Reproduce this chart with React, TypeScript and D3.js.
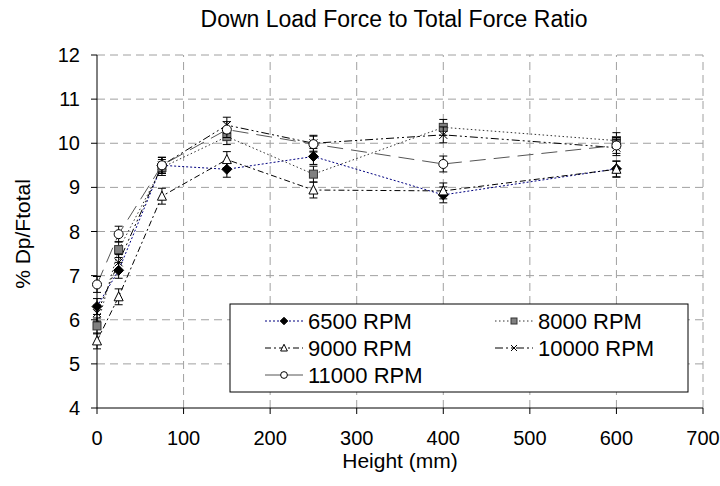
import React from "react";
import * as d3 from "d3";

const heights = [0, 25, 75, 150, 250, 400, 600];
const rpm6500 = [6.3, 7.12, 9.5, 9.41, 9.7, 8.83, 9.42];
const rpm8000 = [5.86, 7.59, 9.45, 10.15, 9.3, 10.36, 10.06];
const rpm9000 = [5.52, 6.52, 8.8, 9.63, 8.94, 8.92, 9.41];
const rpm10000 = [6.15, 7.3, 9.5, 10.41, 10.0, 10.19, 9.9];
const rpm11000 = [6.8, 7.94, 9.5, 10.31, 9.98, 9.53, 9.95];
const errHalf = 0.18;
const xTicks = [0, 100, 200, 300, 400, 500, 600, 700];
const yTicks = [4, 5, 6, 7, 8, 9, 10, 11, 12];
const seriesNames = ["6500 RPM", "8000 RPM", "9000 RPM", "10000 RPM", "11000 RPM"];

const W = 720, H = 486;
const FONT = "'Liberation Sans', Arial, sans-serif";

type Style = { stroke: string; dash: string; marker: string };
const styles: Style[] = [
  { stroke: "#000080", dash: "2,2", marker: "diamond" },
  { stroke: "#333", dash: "1.5,2.5", marker: "square" },
  { stroke: "#000", dash: "6,3,2,3", marker: "triangle" },
  { stroke: "#000", dash: "8,3,2,3,2,3", marker: "x" },
  { stroke: "#555", dash: "16,8", marker: "circle" },
];

function Marker({ type, x, y, s = 1 }: { type: string; x: number; y: number; s?: number }) {
  if (type === "diamond") {
    const r = 5 * s;
    return <path d={`M${x},${y - r}L${x + r},${y}L${x},${y + r}L${x - r},${y}Z`} fill="#000" stroke="#000" />;
  }
  if (type === "square") {
    const r = 4 * s;
    return <rect x={x - r} y={y - r} width={2 * r} height={2 * r} fill="#808080" stroke="#333" strokeWidth={1} />;
  }
  if (type === "triangle") {
    const r = 5 * s;
    return <path d={`M${x},${y - r}L${x + r * 0.9},${y + r * 0.8}L${x - r * 0.9},${y + r * 0.8}Z`} fill="#fff" stroke="#000" />;
  }
  if (type === "x") {
    const r = 4 * s;
    return <path d={`M${x - r},${y - r}L${x + r},${y + r}M${x - r},${y + r}L${x + r},${y - r}`} stroke="#000" fill="none" />;
  }
  const r = 4.5 * s;
  return <circle cx={x} cy={y} r={r} fill="#fff" stroke="#000" />;
}

export default function App() {
  const x = d3.scaleLinear().domain([0, 700]).range([97, 703]);
  const y = d3.scaleLinear().domain([4, 12]).range([408, 55]);
  const all = [rpm6500, rpm8000, rpm9000, rpm10000, rpm11000];
  const line = d3.line<number>().x((_, i) => x(heights[i])).y((d) => y(d));

  const legendItems = [
    { i: 0, lx: 265, ly: 321 },
    { i: 1, lx: 495, ly: 321 },
    { i: 2, lx: 265, ly: 348 },
    { i: 3, lx: 495, ly: 348 },
    { i: 4, lx: 265, ly: 375 },
  ];

  return (
    <svg width={W} height={H} style={{ position: "absolute", left: 0, top: 0, background: "#fff" }} fontFamily={FONT}>
      <rect x={0} y={0} width={W} height={H} fill="#fff" />
      {/* gridlines */}
      {yTicks.filter((t) => t !== 4).map((t) => (
        <line key={"gy" + t} x1={x(0)} x2={x(700)} y1={y(t)} y2={y(t)} stroke="#a0a0a0" strokeDasharray="8,5" />
      ))}
      {xTicks.filter((t) => t !== 0).map((t) => (
        <line key={"gx" + t} x1={x(t)} x2={x(t)} y1={y(4)} y2={y(12)} stroke="#a0a0a0" strokeDasharray="8,5" />
      ))}
      {/* axes */}
      <line x1={x(0)} x2={x(0)} y1={y(4)} y2={y(12)} stroke="#000" />
      <line x1={x(0)} x2={x(700)} y1={y(4)} y2={y(4)} stroke="#000" />
      {yTicks.map((t) => (
        <g key={"ty" + t}>
          <line x1={x(0) - 6} x2={x(0)} y1={y(t)} y2={y(t)} stroke="#000" />
          <text x={x(0) - 17} y={y(t)} dy="0.35em" textAnchor="end" fontSize={20}>{t}</text>
        </g>
      ))}
      {xTicks.map((t) => (
        <g key={"tx" + t}>
          <line x1={x(t)} x2={x(t)} y1={y(4)} y2={y(4) + 6} stroke="#000" />
          <text x={x(t)} y={y(4) + 30} dy="0.35em" textAnchor="middle" fontSize={20}>{t}</text>
        </g>
      ))}
      {/* lines */}
      {all.map((vals, si) => (
        <path key={"l" + si} d={line(vals) || ""} fill="none" stroke={styles[si].stroke} strokeWidth={1} strokeDasharray={styles[si].dash} />
      ))}
      {/* error bars & markers */}
      {all.map((vals, si) => (
        <g key={"m" + si}>
          {vals.map((v, i) => {
            const cx = x(heights[i]);
            const y1 = y(v + errHalf), y2 = y(v - errHalf);
            return (
              <g key={i}>
                <line x1={cx} x2={cx} y1={y1} y2={y2} stroke="#000" />
                <line x1={cx - 4} x2={cx + 4} y1={y1} y2={y1} stroke="#000" />
                <line x1={cx - 4} x2={cx + 4} y1={y2} y2={y2} stroke="#000" />
                <Marker type={styles[si].marker} x={cx} y={y(v)} />
              </g>
            );
          })}
        </g>
      ))}
      {/* legend */}
      <rect x={230} y={304} width={458} height={88} fill="#fff" stroke="#000" />
      {legendItems.map(({ i, lx, ly }) => (
        <g key={"lg" + i}>
          <line x1={lx} x2={lx + 38} y1={ly} y2={ly} stroke={styles[i].stroke} strokeDasharray={i === 4 ? "none" : styles[i].dash} />
          <Marker type={styles[i].marker} x={lx + 19} y={ly} s={0.75} />
          <text x={lx + 43} y={ly} dy="0.35em" fontSize={22}>{seriesNames[i]}</text>
        </g>
      ))}
      {/* titles */}
      <text x={394} y={27} textAnchor="middle" fontSize={23}>Down Load Force to Total Force Ratio</text>
      <text x={400} y={461} dy="0.35em" textAnchor="middle" fontSize={21}>Height (mm)</text>
      <text transform={`translate(30,234) rotate(-90)`} textAnchor="middle" fontSize={21}>% Dp/Ftotal</text>
    </svg>
  );
}
